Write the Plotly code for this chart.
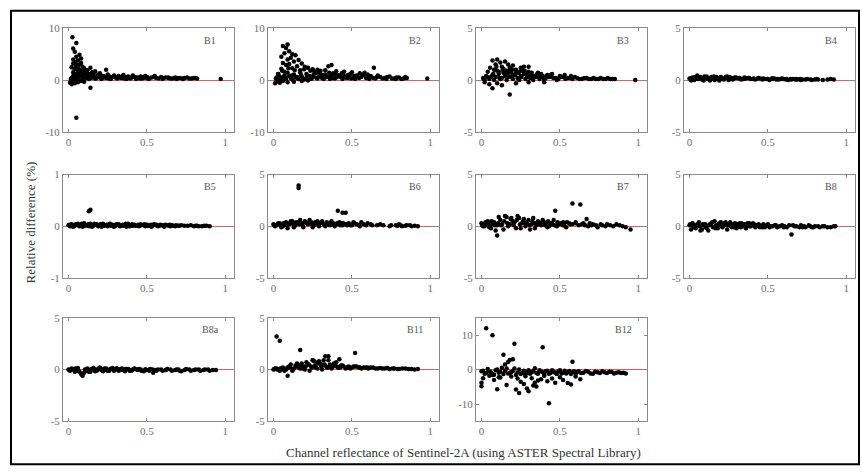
import plotly.graph_objects as go

W, H = 862, 476

# ---- band data: (reflectance, relative difference %) ----
b1_x = [0.025,0.05,0.03,0.07,0.05,0.04,0.06,0.03,0.08,0.05,0.04,0.07,0.09,0.06,0.03,0.05,0.08,0.1,0.04,0.06,0.11,0.07,0.09,0.12,0.05,0.03,0.08,0.1,0.13,0.06,0.15,0.17,0.14,0.2,0.24,0.19,0.12,0.16,
        0.01,0.02,0.03,0.04,0.05,0.14,0.06,0.08,0.1,
        0.02,0.04,0.06,0.08,0.1,0.12,0.14,0.16,0.18,0.2,0.22,0.24,0.26,0.28,0.3,0.32,0.34,0.36,0.38,0.4,0.42,0.44,0.46,0.48,0.5,0.53,0.56,0.59,0.62,0.65,0.68,0.71,0.74,0.77,0.8,0.82,
        0.03,0.05,0.07,0.09,0.11,0.13,0.15,0.17,0.19,0.21,0.23,0.25,0.27,0.29,0.31,0.33,0.35,0.37,0.39,0.41,0.43,0.45,0.47,0.49,0.51,0.55,0.6,0.64,0.69,0.73,0.97,
        0.015,0.035,0.055,0.075,0.095,0.115,0.135,0.155,0.175,0.195,0.215,0.235,0.255,0.275,0.295,0.315,0.335,0.355,0.375,0.395,0.415,0.435,0.455,0.475,0.495,0.515,0.545,0.575,0.605,0.635,0.665,0.695,0.725,0.755,0.785,0.81,
        0.02,0.04,0.06,0.08,0.1,0.03,0.05,0.07,0.09]
b1_y = [8.3,7.2,6.1,4.9,4.5,5.5,3.8,3.2,4.2,2.7,2.1,3.0,2.6,1.9,1.5,1.2,1.8,2.3,0.9,1.1,1.6,0.7,1.3,1.9,0.5,0.8,1.0,1.4,1.2,2.2,1.5,1.7,2.4,1.3,2.0,1.1,0.9,1.3,
        -0.5,-0.8,-0.3,-0.6,-7.3,-1.5,-0.4,-0.2,-0.3,
        0.4,0.6,0.3,0.8,0.5,0.7,0.4,0.9,0.6,0.5,0.8,0.4,0.7,0.6,0.5,0.8,0.4,0.6,0.7,0.5,0.6,0.4,0.7,0.5,0.6,0.5,0.4,0.6,0.5,0.3,0.5,0.4,0.4,0.3,0.4,0.3,
        0.1,0.2,1.1,0.3,1.2,0.2,0.9,0.3,1.0,0.2,0.6,1.1,0.2,0.9,0.3,0.5,1.0,0.2,0.4,0.9,0.2,0.5,0.3,0.8,0.2,0.8,0.2,0.4,0.2,0.2,0.2,
        0.2,0.9,0.5,1.5,0.6,0.4,0.7,0.5,0.3,0.7,0.4,0.6,0.3,0.5,0.7,0.4,0.6,0.3,0.5,0.3,0.7,0.5,0.3,0.6,0.4,0.3,0.6,0.3,0.4,0.5,0.3,0.4,0.3,0.5,0.3,0.4,
        2.5,3.5,2.8,3.3,1.7,4.0,3.0,2.0,0.6]

b2_x = [0.06,0.09,0.08,0.1,0.12,0.07,0.05,0.11,0.14,0.09,0.13,0.06,0.16,0.18,0.08,0.1,0.15,0.2,0.12,0.22,0.25,0.17,0.05,0.07,0.03,0.28,0.3,0.33,0.35,0.37,0.4,0.64,0.45,0.5,0.55,0.6,0.58,
        0.01,0.02,0.04,0.06,0.09,0.13,0.18,0.22,0.98,
        0.02,0.03,0.05,0.07,0.09,0.11,0.13,0.15,0.17,0.19,0.21,0.23,0.25,0.27,0.29,0.31,0.33,0.35,0.37,0.39,0.41,0.43,0.45,0.47,0.49,0.51,0.53,0.56,0.59,0.62,0.65,0.68,0.71,0.74,0.77,0.8,0.83,0.85,
        0.04,0.06,0.08,0.1,0.12,0.14,0.16,0.18,0.2,0.22,0.24,0.26,0.28,0.3,0.32,0.34,0.36,0.38,0.4,0.44,0.48,0.52,0.57,0.61,0.66,0.72,0.78,
        0.015,0.035,0.055,0.075,0.095,0.115,0.135,0.155,0.175,0.195,0.215,0.235,0.255,0.275,0.295,0.315,0.335,0.355,0.375,0.395,0.415,0.435,0.455,0.475,0.495,0.515,0.545,0.575,0.605,0.635,0.665,0.695,0.725,0.755,0.785,0.815,0.84]
b2_y = [6.6,6.9,6.2,5.6,5.0,5.2,4.5,4.3,4.8,4.0,3.6,3.3,3.9,3.2,2.9,3.1,2.7,2.6,2.3,2.4,2.1,1.9,2.2,1.6,1.2,2.0,1.8,1.9,2.7,2.9,1.7,2.4,1.6,1.5,1.3,1.1,1.4,
        -0.6,-0.3,-0.5,-0.2,-0.4,-0.3,-0.2,-0.1,0.3,
        0.5,1.2,0.3,0.9,1.4,0.4,1.1,0.6,1.5,0.3,1.2,0.8,0.5,1.3,0.7,0.4,1.1,0.6,0.9,0.3,1.0,0.6,0.8,0.4,1.2,0.5,0.9,0.6,0.4,0.8,0.3,0.6,0.4,0.7,0.3,0.5,0.3,0.4,
        0.1,0.6,0.2,0.8,0.1,0.5,0.2,0.7,0.1,0.5,0.2,1.6,0.3,1.0,0.2,0.6,0.2,1.3,0.5,0.2,0.7,0.2,1.0,0.2,0.6,0.2,0.2,
        0.3,0.8,1.8,0.4,2.3,0.9,1.9,0.3,1.0,2.1,0.6,1.8,1.0,0.4,1.5,1.0,0.6,1.4,0.4,1.2,0.7,1.3,0.5,1.0,0.3,0.8,0.4,1.1,0.6,0.4,0.9,0.3,0.6,0.3,0.5,0.2,0.6]

b3_x = [0.07,0.09,0.1,0.12,0.13,0.15,0.14,0.17,0.18,0.2,0.22,0.25,0.27,0.3,0.08,0.11,0.16,0.19,0.24,0.28,0.32,0.35,0.38,0.42,0.45,0.5,
        0.18,0.07,0.05,0.1,0.13,0.02,0.22,0.3,0.4,
        0.01,0.03,0.05,0.07,0.09,0.11,0.13,0.15,0.17,0.19,0.21,0.23,0.25,0.27,0.29,0.31,0.33,0.35,0.37,0.39,0.41,0.43,0.46,0.49,0.52,0.55,0.58,0.61,0.64,0.67,0.7,0.73,0.76,0.79,0.82,0.85,0.98,
        0.02,0.04,0.06,0.08,0.1,0.12,0.14,0.16,0.18,0.2,0.22,0.24,0.26,0.28,0.3,0.33,0.36,0.4,0.44,0.48,0.53,0.57,
        0.015,0.035,0.055,0.075,0.095,0.115,0.135,0.155,0.175,0.195,0.215,0.235,0.255,0.275,0.295,0.315,0.335,0.355,0.375,0.395,0.415,0.445,0.475,0.505,0.535,0.565,0.595,0.625,0.655,0.685,0.715,0.745,0.775,0.805,0.835]
b3_y = [1.9,1.5,2.0,1.7,1.3,1.8,1.1,1.5,1.2,1.4,1.0,1.2,1.3,1.3,1.0,0.8,0.9,0.7,0.8,0.6,0.7,0.5,0.6,0.5,0.6,0.4,
        -1.4,-0.8,-0.4,-0.3,-0.5,-0.2,-0.3,-0.2,-0.2,
        0.2,0.4,0.1,0.5,0.3,0.6,0.2,0.4,0.7,0.3,0.5,0.2,0.4,0.6,0.3,0.2,0.4,0.3,0.1,0.4,0.2,0.3,0.2,0.1,0.3,0.2,0.1,0.2,0.1,0.2,0.1,0.1,0.2,0.1,0.1,0.1,0.0,
        0.0,0.8,0.3,0.0,0.9,0.1,0.7,0.0,0.9,0.1,0.7,0.0,0.9,0.1,0.8,0.0,0.7,0.0,0.5,0.0,0.5,0.4,
        0.1,0.3,1.2,0.6,1.3,0.2,1.0,0.6,0.3,1.0,0.5,0.7,0.3,0.9,0.5,0.4,0.3,0.6,0.3,0.2,0.4,0.3,0.2,0.3,0.1,0.2,0.3,0.1,0.2,0.1,0.2,0.1,0.1,0.2,0.1]

b4_x = [0.0,0.02,0.04,0.05,0.06,0.08,0.1,0.12,0.14,0.16,0.18,0.2,0.22,0.24,0.26,0.28,0.3,0.33,0.36,0.39,0.42,0.45,0.48,0.51,0.54,0.57,0.6,0.63,0.66,0.69,0.72,0.75,0.78,0.8,0.82,0.85,0.9,0.92,
        0.01,0.03,0.07,0.09,0.11,0.13,0.15,0.17,0.19,0.21,0.23,0.25,0.27,0.29,0.32,0.35,0.38,0.41,0.44,0.47,0.5,0.53,0.56,0.59,0.62,0.65,0.68,0.71,
        0.015,0.035,0.055,0.075,0.095,0.115,0.135,0.155,0.175,0.195,0.215,0.235,0.255,0.275,0.295,0.315,0.345,0.375,0.405,0.435,0.465,0.495,0.525,0.555,0.585,0.615,0.645,0.675,0.705,0.74,0.77,0.81,0.88]
b4_y = [0.15,0.25,0.1,0.45,0.3,0.05,0.25,0.1,0.3,0.0,0.2,0.3,0.05,0.35,0.15,0.1,0.2,0.05,0.15,0.1,0.05,0.15,0.1,0.0,0.15,0.05,0.1,0.0,0.1,0.05,0.05,0.1,0.0,0.05,0.05,0.0,0.1,0.05,
        -0.05,0.0,0.3,-0.05,0.35,-0.05,0.15,0.3,-0.05,0.15,0.3,0.0,0.2,0.25,0.2,0.25,0.2,0.15,0.2,0.15,0.1,0.15,0.1,0.15,0.1,0.05,0.1,0.0,
        0.2,0.3,0.1,0.2,0.35,0.1,0.2,0.35,0.1,0.25,0.1,0.2,0.3,0.05,0.25,0.15,0.1,0.2,0.1,0.15,0.05,0.1,0.15,0.05,0.1,0.05,0.1,0.05,0.1,0.05,0.05,0.1,0.05]

b5_x = [0.0,0.02,0.04,0.06,0.08,0.1,0.12,0.14,0.16,0.18,0.2,0.22,0.24,0.26,0.28,0.3,0.32,0.34,0.36,0.38,0.4,0.42,0.44,0.46,0.48,0.5,0.52,0.54,0.56,0.58,0.6,0.62,0.64,0.66,0.68,0.7,0.72,0.76,0.78,0.8,0.82,0.85,0.88,0.9,
        0.01,0.03,0.05,0.07,0.09,0.11,0.13,0.15,0.17,0.19,0.21,0.23,0.25,0.27,0.29,0.31,0.33,0.35,0.37,0.39,0.41,0.45,0.49,0.53,0.57,0.61,0.65,0.13,0.14,
        0.005,0.025,0.045,0.065,0.085,0.105,0.125,0.145,0.165,0.185,0.205,0.225,0.245,0.265,0.285,0.305,0.325,0.345,0.365,0.385,0.405,0.425,0.445,0.465,0.485,0.505,0.525,0.545,0.565,0.585,0.605,0.625,0.645,0.665,0.685,0.705,0.74,0.81,0.83,0.865]
b5_y = [0.02,0.04,0.01,0.05,0.03,0.06,0.02,0.05,0.01,0.04,0.03,0.05,0.02,0.04,0.03,0.01,0.04,0.02,0.03,0.05,0.02,0.03,0.01,0.04,0.02,0.03,0.01,0.02,0.03,0.01,0.02,0.03,0.01,0.02,0.0,0.01,0.02,0.01,0.02,0.0,0.01,0.0,0.01,0.0,
        0.0,-0.01,0.03,0.0,-0.01,0.02,0.0,-0.01,0.03,0.0,-0.01,0.02,0.0,0.01,-0.01,0.03,0.0,0.01,-0.01,0.0,0.01,0.0,0.0,-0.01,0.0,-0.01,0.0,0.29,0.32,
        0.03,0.01,0.04,0.02,0.05,0.01,0.04,0.02,0.05,0.02,0.04,0.01,0.03,0.05,0.02,0.04,0.01,0.03,0.05,0.02,0.04,0.01,0.03,0.02,0.04,0.01,0.03,0.04,0.01,0.03,0.01,0.02,0.03,0.01,0.02,0.01,0.01,0.01,0.0,0.01]

b6_x = [0.0,0.02,0.04,0.06,0.08,0.1,0.12,0.14,0.16,0.18,0.2,0.22,0.24,0.26,0.28,0.3,0.32,0.34,0.36,0.38,0.4,0.42,0.44,0.46,0.48,0.5,0.53,0.56,0.59,0.62,0.66,0.7,0.74,0.78,0.8,0.82,0.85,0.88,0.92,
        0.01,0.03,0.05,0.07,0.09,0.11,0.13,0.15,0.17,0.19,0.21,0.23,0.25,0.27,0.29,0.31,0.33,0.35,0.37,0.39,0.43,0.47,0.51,0.55,0.16,0.16,0.41,0.44,0.46,
        0.005,0.025,0.045,0.065,0.085,0.105,0.125,0.145,0.165,0.185,0.205,0.225,0.245,0.265,0.285,0.305,0.325,0.345,0.365,0.385,0.405,0.425,0.445,0.465,0.49,0.515,0.545,0.575,0.6,0.63,0.68,0.75,0.79,0.81,0.84,0.87,0.9]
b6_y = [0.2,0.1,0.3,0.0,0.4,0.2,0.5,0.1,0.4,0.3,0.5,0.2,0.4,0.1,0.5,0.3,0.2,0.4,0.1,0.3,0.2,0.4,0.1,0.2,0.3,0.1,0.2,0.4,0.1,0.2,0.1,0.1,0.0,0.1,0.2,0.0,0.1,0.0,0.0,
        0.0,0.3,-0.1,0.2,-0.2,0.5,-0.1,0.3,0.6,-0.1,0.3,0.6,-0.1,0.3,0.0,0.5,0.0,0.2,0.5,0.0,0.3,0.1,0.4,0.0,3.7,3.95,1.5,1.3,1.3,
        0.1,0.2,0.1,0.3,0.1,0.3,0.2,0.4,0.2,0.1,0.4,0.3,0.2,0.4,0.2,0.4,0.1,0.3,0.3,0.2,0.3,0.1,0.3,0.2,0.1,0.3,0.1,0.2,0.3,0.1,0.2,0.1,0.05,0.1,0.05,0.1,0.05]

b7_x = [0.0,0.02,0.04,0.06,0.08,0.1,0.12,0.14,0.16,0.18,0.2,0.22,0.24,0.26,0.28,0.3,0.32,0.34,0.36,0.38,0.4,0.42,0.44,0.46,0.48,0.5,0.52,0.54,0.56,0.58,0.62,0.65,0.68,0.71,0.74,0.77,0.8,0.84,0.88,0.92,0.95,
        0.01,0.03,0.05,0.07,0.09,0.1,0.11,0.13,0.15,0.17,0.19,0.21,0.23,0.25,0.27,0.29,0.31,0.33,0.35,0.37,0.39,0.41,0.43,0.45,0.47,0.49,0.58,0.63,0.67,0.52,0.6,0.7,
        0.005,0.025,0.045,0.065,0.085,0.105,0.125,0.145,0.165,0.185,0.205,0.225,0.245,0.265,0.285,0.305,0.325,0.345,0.365,0.385,0.405,0.425,0.445,0.465,0.485,0.505,0.525,0.545,0.565,0.6,0.64,0.66,0.69,0.73,0.76,0.79,0.82,0.86,0.9]
b7_y = [0.3,0.0,0.5,-0.2,0.4,0.1,0.6,-0.3,0.9,0.2,0.5,-0.2,0.8,0.3,0.0,0.6,0.2,-0.2,0.5,0.1,0.4,-0.1,0.3,0.6,0.0,0.2,0.4,-0.1,0.3,0.2,0.1,0.3,0.0,0.2,-0.1,0.1,0.2,0.0,0.1,-0.1,-0.3,
        0.0,0.3,-0.1,0.2,-0.4,-0.9,0.9,0.2,1.0,0.0,0.8,0.4,1.0,-0.2,0.7,0.4,-0.3,0.8,0.1,0.2,0.6,0.3,0.0,0.3,1.5,0.2,2.2,2.1,0.7,0.1,0.4,0.1,
        0.1,0.4,0.2,0.5,0.1,0.3,0.1,0.5,0.3,0.7,0.1,0.6,0.2,0.5,0.3,0.1,0.5,0.3,0.2,0.4,0.1,0.5,0.2,0.1,0.4,0.3,0.1,0.4,0.2,0.3,0.2,0.1,0.3,0.1,0.2,0.0,0.1,0.2,0.0]

b8_x = [0.0,0.02,0.04,0.06,0.08,0.1,0.12,0.14,0.16,0.18,0.2,0.22,0.24,0.26,0.28,0.3,0.32,0.34,0.36,0.38,0.4,0.42,0.44,0.46,0.48,0.5,0.53,0.56,0.59,0.62,0.65,0.68,0.71,0.74,0.77,0.8,0.83,0.86,0.9,0.93,
        0.01,0.03,0.05,0.07,0.09,0.11,0.13,0.15,0.17,0.19,0.21,0.23,0.25,0.27,0.29,0.31,0.33,0.35,0.37,0.39,0.41,0.43,0.45,0.47,0.51,0.55,0.6,0.66,0.72,0.78,
        0.005,0.025,0.045,0.065,0.085,0.105,0.125,0.145,0.165,0.185,0.205,0.225,0.245,0.265,0.285,0.305,0.325,0.345,0.365,0.385,0.405,0.425,0.445,0.465,0.49,0.52,0.545,0.575,0.605,0.635,0.67,0.7,0.73,0.76,0.79,0.82,0.85,0.88,0.92]
b8_y = [0.1,0.3,-0.2,0.4,-0.3,0.2,-0.4,0.3,0.5,-0.2,0.4,0.1,-0.3,0.4,0.2,-0.2,0.3,0.0,-0.2,0.3,0.1,-0.1,0.2,0.0,-0.1,0.2,0.0,-0.1,0.1,-0.1,-0.8,0.0,0.1,-0.1,0.0,0.0,-0.1,0.0,-0.1,0.0,
        -0.3,0.0,0.2,-0.4,0.1,-0.2,0.2,-0.1,0.1,0.3,-0.1,0.4,0.2,-0.1,0.3,0.1,0.3,0.2,0.3,0.0,0.2,0.1,-0.1,0.2,-0.1,0.1,-0.1,0.1,-0.1,-0.1,
        0.2,-0.1,0.1,0.0,0.2,-0.1,0.1,0.4,-0.2,0.2,0.0,0.3,0.1,0.0,-0.1,0.2,-0.1,0.2,0.1,0.0,0.3,0.0,0.1,-0.1,0.1,0.0,0.1,0.0,0.0,0.1,0.0,-0.1,0.0,0.1,-0.1,0.0,0.0,-0.1,0.0]

b8a_x = [0.0,0.02,0.04,0.06,0.08,0.09,0.1,0.12,0.14,0.16,0.18,0.2,0.22,0.24,0.26,0.28,0.3,0.32,0.34,0.36,0.38,0.4,0.42,0.44,0.46,0.48,0.5,0.52,0.54,0.57,0.6,0.63,0.66,0.69,0.72,0.75,0.78,0.81,0.84,0.87,0.9,0.94,
         0.01,0.03,0.05,0.07,0.11,0.13,0.15,0.17,0.19,0.21,0.23,0.25,0.27,0.29,0.31,0.33,0.35,0.37,0.39,0.41,0.45,0.49,0.55,0.62,0.7,
         0.005,0.025,0.045,0.065,0.085,0.105,0.125,0.145,0.165,0.185,0.205,0.225,0.245,0.265,0.285,0.305,0.325,0.345,0.365,0.385,0.405,0.425,0.445,0.465,0.49,0.515,0.535,0.56,0.59,0.62,0.65,0.68,0.71,0.74,0.77,0.8,0.83,0.86,0.89,0.92]
b8a_y = [0.0,0.1,-0.2,0.15,-0.4,-0.6,-0.3,0.1,-0.2,0.15,-0.1,0.2,-0.15,0.1,-0.1,0.15,0.0,-0.1,0.1,-0.15,0.05,-0.1,0.1,-0.05,0.0,-0.15,-0.05,0.05,-0.3,0.0,-0.1,0.05,-0.1,0.0,-0.15,0.05,-0.1,0.0,-0.1,0.0,-0.1,-0.05,
         -0.1,0.05,-0.1,-0.2,-0.1,-0.2,0.05,-0.15,0.1,-0.05,0.1,-0.1,0.05,-0.1,0.1,0.0,-0.05,0.05,-0.1,0.0,0.05,0.0,-0.05,-0.05,0.0,
         -0.05,0.0,0.1,-0.1,-0.5,0.0,-0.1,0.05,0.0,-0.05,0.1,0.0,-0.05,0.05,0.0,0.1,0.0,-0.05,0.05,0.0,-0.05,0.05,0.0,-0.1,0.0,-0.1,0.0,-0.1,0.0,-0.05,0.0,-0.05,-0.1,-0.05,0.0,-0.05,0.0,-0.05,0.0,-0.05]

b11_x = [0.0,0.02,0.04,0.06,0.08,0.1,0.12,0.14,0.16,0.18,0.2,0.22,0.24,0.26,0.28,0.3,0.32,0.34,0.36,0.38,0.4,0.42,0.44,0.46,0.48,0.5,0.53,0.56,0.59,0.62,0.65,0.68,0.71,0.74,0.77,0.8,0.84,0.88,0.92,
         0.01,0.03,0.05,0.07,0.09,0.11,0.13,0.15,0.17,0.19,0.21,0.23,0.25,0.27,0.29,0.31,0.33,0.35,0.37,0.39,0.41,0.43,0.47,0.51,0.55,0.6,0.02,0.04,0.17,0.33,0.35,0.52,0.42,0.25,0.28,0.09,
         0.005,0.025,0.045,0.065,0.085,0.105,0.125,0.145,0.165,0.185,0.205,0.225,0.245,0.265,0.285,0.305,0.325,0.345,0.365,0.385,0.405,0.425,0.445,0.465,0.49,0.52,0.545,0.575,0.605,0.635,0.665,0.695,0.725,0.76,0.79,0.82,0.86,0.9]
b11_y = [0.0,0.1,-0.1,0.2,0.0,0.3,-0.1,0.4,0.2,0.6,0.0,0.5,0.3,0.8,0.1,0.6,0.9,0.2,0.5,0.3,0.7,0.2,0.4,0.1,0.3,0.2,0.3,0.1,0.2,0.2,0.1,0.15,0.1,0.05,0.1,0.05,0.1,0.05,0.05,
         0.1,0.0,0.1,-0.1,0.2,0.5,0.1,0.6,0.1,0.3,0.7,-0.1,0.9,0.2,0.8,0.0,0.4,0.9,0.1,0.5,0.2,0.4,0.2,0.3,0.2,0.2,3.2,2.8,1.9,1.3,1.3,1.6,1.0,0.9,0.7,-0.6,
         0.05,0.0,0.1,0.0,0.1,0.2,0.0,0.3,0.4,0.1,0.3,0.5,0.2,0.4,0.6,0.3,0.5,0.2,0.4,0.6,0.3,0.2,0.3,0.2,0.1,0.3,0.2,0.2,0.1,0.2,0.1,0.1,0.15,0.1,0.05,0.1,0.05,0.0]

b12_x = [0.0,0.02,0.04,0.06,0.08,0.1,0.12,0.14,0.16,0.18,0.2,0.22,0.24,0.26,0.28,0.3,0.32,0.34,0.36,0.38,0.4,0.42,0.44,0.46,0.48,0.5,0.52,0.54,0.56,0.58,0.6,0.62,0.65,0.68,0.71,0.74,0.77,0.8,0.83,0.86,0.89,0.92,
         0.0,0.0,0.01,0.03,0.07,0.21,0.39,0.14,0.58,0.43,0.1,0.12,0.05,0.08,0.16,0.17,0.18,0.2,0.22,0.24,0.25,0.27,0.29,0.3,0.32,0.33,0.35,0.36,0.38,0.4,0.42,0.45,0.47,0.5,0.52,0.55,0.57,0.6,0.63,0.15,0.19,0.23,0.28,0.34,0.07,0.11,
         0.01,0.03,0.05,0.07,0.09,0.11,0.13,0.15,0.17,0.19,0.21,0.23,0.25,0.27,0.29,0.31,0.33,0.35,0.37,0.39,0.41,0.43,0.45,0.47,0.49,0.51,0.53,0.55,0.57,0.59,0.61,0.635,0.665,0.695,0.725,0.755,0.785,0.815,0.845,0.875,0.905]
b12_y = [-0.5,-1.2,0.2,-0.8,-1.5,0.0,-0.6,-1.3,0.3,-1.0,-0.4,-1.6,0.0,-0.9,-1.4,-0.2,-0.8,0.4,-1.2,-0.5,-1.5,-0.3,-1.0,-0.6,-1.3,-0.2,-0.9,-1.1,-0.4,-0.8,-1.2,-0.5,-0.9,-0.6,-1.2,-0.8,-0.5,-1.0,-0.7,-0.9,-1.0,-1.1,
         -3.8,-4.8,-2.5,12.0,10.0,7.5,6.5,4.3,2.3,-9.8,-5.7,-2.3,-1.8,-3.0,-4.5,2.2,2.8,3.0,-5.8,-6.8,-3.5,-4.2,-5.5,-6.3,-2.5,-4.6,-4.9,-3.2,-2.8,-1.8,-3.4,-2.6,-3.8,-2.2,-3.0,-3.9,-4.3,-2.0,-2.8,1.5,-2.0,-2.6,-1.9,-3.8,-1.6,-2.2,
         -0.3,-1.0,-0.5,-1.3,-0.2,-0.9,0.5,-0.4,-1.1,-0.7,0.3,-0.8,-1.3,-0.3,-0.9,-1.2,-0.4,-1.0,-0.2,-0.8,-0.5,-1.2,-0.2,-0.9,-0.5,-1.1,-0.3,-0.8,-1.3,-0.5,-0.7,-1.0,-0.4,-1.1,-0.6,-1.0,-0.8,-0.6,-1.1,-0.8,-0.9]

band_names = ["B1", "B2", "B3", "B4", "B5", "B6", "B7", "B8", "B8a", "B11", "B12"]
band_x = [b1_x, b2_x, b3_x, b4_x, b5_x, b6_x, b7_x, b8_x, b8a_x, b11_x, b12_x]
band_y = [b1_y, b2_y, b3_y, b4_y, b5_y, b6_y, b7_y, b8_y, b8a_y, b11_y, b12_y]
y_limits = [10, 10, 5, 5, 1, 5, 5, 5, 5, 5, 15]
y_ticks = [[-10, 0, 10], [-10, 0, 10], [-5, 0, 5], [-5, 0, 5], [-1, 0, 1], [-5, 0, 5],
           [-5, 0, 5], [-5, 0, 5], [-5, 0, 5], [-5, 0, 5], [-10, 0, 10]]
x_ticks = [0, 0.5, 1]
x_ticktext = ["0", "0.5", "1"]

# ---- panel geometry in pixels ----
col_left = [63, 268, 476, 684]
panel_w = 171
row_top = [23, 173, 320]
panel_h = 106

SERIF = "Liberation Serif, Times New Roman, serif"
AXIS_GREY = "#8a8a8a"
TICK_FONT = dict(family=SERIF, size=11, color="#707070")

fig = go.Figure()
layout = dict(
    width=W, height=H,
    margin=dict(l=0, r=0, t=0, b=0),
    paper_bgcolor="white", plot_bgcolor="white",
    showlegend=False,
    annotations=[], shapes=[],
)

for i, name in enumerate(band_names):
    r, c = divmod(i, 4)
    x0, y0 = col_left[c], row_top[r]
    ax = "" if i == 0 else str(i + 1)
    xa, ya = "xaxis" + ax, "yaxis" + ax
    fig.add_trace(go.Scatter(
        x=band_x[i], y=band_y[i], mode="markers",
        marker=dict(color="black", size=4.5, line=dict(width=0)),
        xaxis="x" + ax, yaxis="y" + ax, hoverinfo="skip",
    ))
    lim = y_limits[i]
    layout[xa] = dict(
        domain=[x0 / W, (x0 + panel_w) / W], anchor="y" + ax,
        range=[-0.035, 1.055], tickvals=x_ticks, ticktext=x_ticktext,
        showgrid=False, zeroline=False, showline=True, mirror="ticks",
        linecolor=AXIS_GREY, linewidth=1, ticks="inside", ticklen=3,
        tickcolor=AXIS_GREY, tickfont=TICK_FONT, fixedrange=True,
    )
    layout[ya] = dict(
        domain=[1 - (y0 + panel_h) / H, 1 - y0 / H], anchor="x" + ax,
        range=[-lim, lim], tickvals=y_ticks[i],
        ticktext=[str(v) for v in y_ticks[i]],
        showgrid=False, zeroline=True, zerolinecolor="#e06060", zerolinewidth=1,
        showline=True, mirror="ticks", linecolor=AXIS_GREY, linewidth=1,
        ticks="inside", ticklen=3, tickcolor=AXIS_GREY, tickfont=TICK_FONT,
        fixedrange=True,
    )
    layout["annotations"].append(dict(
        text=name, xref="paper", yref="paper",
        x=(x0 + panel_w - 24) / W, y=1 - (y0 + 12) / H,
        xanchor="center", yanchor="middle", showarrow=False,
        font=dict(family=SERIF, size=10, color="#555555"),
    ))

layout["annotations"].append(dict(
    text="Relative difference (%)", xref="paper", yref="paper",
    x=30 / W, y=1 - 222 / H, textangle=-90, showarrow=False,
    xanchor="center", yanchor="middle",
    font=dict(family=SERIF, size=13, color="#333333"),
))
layout["annotations"].append(dict(
    text="Channel reflectance of Sentinel-2A (using ASTER Spectral Library)",
    xref="paper", yref="paper", x=463 / W, y=1 - 458 / H, showarrow=False,
    xanchor="center", yanchor="middle",
    font=dict(family=SERIF, size=13, color="#333333"),
))
# outer frame
layout["shapes"].append(dict(
    type="rect", xref="paper", yref="paper",
    x0=11 / W, x1=859 / W, y0=1 - 470 / H, y1=1 - 5 / H,
    line=dict(color="black", width=2), fillcolor="rgba(0,0,0,0)",
))

fig.update_layout(**layout)
fig.write_html("out.html")
